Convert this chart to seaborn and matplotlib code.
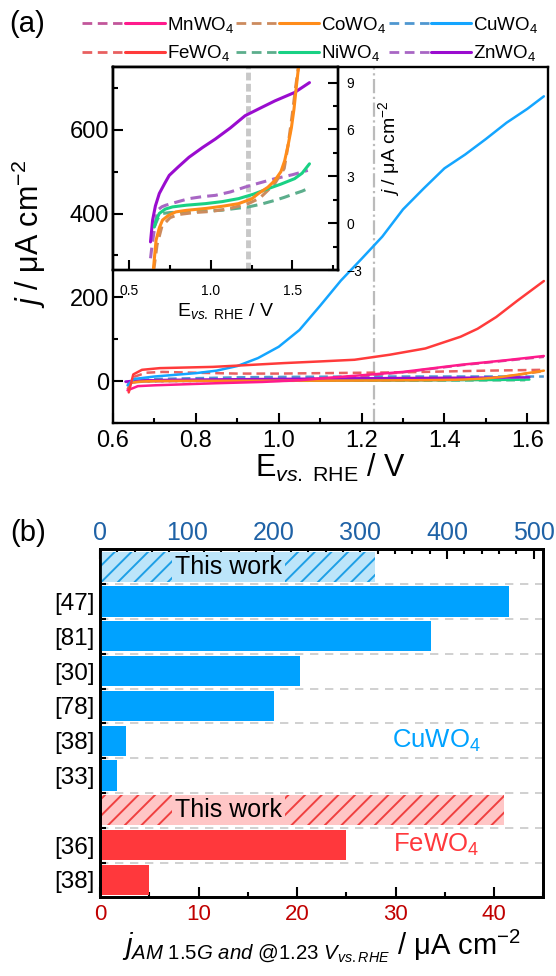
import numpy as np
import pandas as pd
import matplotlib
matplotlib.use('Agg')
import matplotlib.pyplot as plt
import seaborn as sns
from matplotlib.lines import Line2D
from matplotlib.legend_handler import HandlerTuple
from matplotlib.ticker import MultipleLocator, FixedLocator, FormatStrFormatter, NullFormatter

# ---------------- data: panel (a) ----------------
mn_x = [0.635, 0.66, 0.70, 0.76, 0.85, 0.96, 1.05, 1.12, 1.20, 1.30, 1.44, 1.55, 1.64]
mn_y = [-22, -12, -10, -8, -5, -2, 2, 8, 14, 22, 39, 50, 60]
mn_dark_x = [0.635, 0.66, 0.75, 0.90, 1.00, 1.10, 1.20, 1.30, 1.44, 1.55, 1.64]
mn_dark_y = [-5, -1, 0, 1, 3, 6, 12, 21, 38, 49, 58]

cu_x = [0.635, 0.65, 0.70, 0.75, 0.80, 0.85, 0.90, 0.95, 1.00, 1.05, 1.10, 1.15,
        1.20, 1.25, 1.30, 1.35, 1.40, 1.45, 1.50, 1.55, 1.60, 1.64]
cu_y = [-10, 5, 11, 15, 19, 25, 36, 55, 82, 122, 180, 240,
        292, 345, 410, 460, 508, 541, 578, 617, 650, 680]
cu_dark_x = [0.635, 0.66, 0.70, 0.80, 0.90, 1.00, 1.20, 1.40, 1.64]
cu_dark_y = [-8, 2, 5, 7, 9, 10, 11, 11, 11]

fe_x = [0.638, 0.649, 0.670, 0.713, 0.841, 0.90, 1.012, 1.10, 1.183, 1.268, 1.354,
        1.439, 1.48, 1.525, 1.576, 1.64]
fe_y = [-27, 16, 27, 31, 34, 37, 43, 47, 51, 63, 78, 106, 125, 153, 192, 239]
fe_dark_x = [0.635, 0.65, 0.68, 0.72, 0.80, 0.90, 1.00, 1.10, 1.20, 1.30, 1.40, 1.50, 1.64]
fe_dark_y = [-20, 10, 20, 22, 20, 18, 18, 19, 20, 21, 23, 25, 27]

co_x = [0.643, 0.664, 0.684, 0.704, 0.74, 0.785, 0.85, 0.967, 1.07, 1.17, 1.25, 1.291,
        1.35, 1.393, 1.43, 1.453, 1.474, 1.494, 1.51, 1.524, 1.538, 1.56, 1.60, 1.64]
co_y = [-3.5, -1.1, -0.3, 0.2, 0.5, 0.72, 0.82, 0.94, 1.08, 1.25, 1.55, 1.89,
        2.3, 2.74, 3.3, 4.0, 5.0, 6.1, 7.3, 8.7, 10.0, 13.0, 19.0, 25.0]
co_dark_x = [0.65, 0.67, 0.70, 0.75, 0.80, 0.90, 1.00, 1.10, 1.23, 1.30, 1.39, 1.45,
             1.474, 1.50, 1.52, 1.54, 1.56, 1.60, 1.64]
co_dark_y = [-3.0, -1.4, -0.2, 0.35, 0.55, 0.68, 0.75, 0.9, 1.25, 1.6, 2.5, 3.5,
             5.0, 7.0, 8.7, 10.2, 13.0, 18.0, 24.0]

ni_x = [0.653, 0.665, 0.684, 0.72, 0.765, 0.85, 0.967, 1.07, 1.17, 1.26, 1.352, 1.43,
        1.514, 1.56, 1.605]
ni_y = [-0.25, 0.2, 0.62, 0.9, 1.04, 1.15, 1.25, 1.38, 1.57, 1.85, 2.21, 2.5, 2.85, 3.2, 3.8]
ni_dark_x = [0.653, 0.675, 0.704, 0.75, 0.866, 1.068, 1.23, 1.31, 1.393, 1.45, 1.514,
             1.56, 1.595]
ni_dark_y = [-0.25, 0.3, 0.62, 0.68, 0.72, 0.83, 1.04, 1.22, 1.46, 1.65, 1.89, 2.05, 2.21]

zn_x = [0.63, 0.643, 0.66, 0.684, 0.72, 0.745, 0.80, 0.866, 0.95, 1.028, 1.12, 1.21,
        1.30, 1.393, 1.514, 1.605]
zn_y = [-1.2, 0.2, 1.1, 1.9, 2.6, 3.06, 3.6, 4.22, 4.85, 5.39, 6.1, 6.88, 7.35, 7.83, 8.37, 9.0]
zn_dark_x = [0.63, 0.64, 0.653, 0.673, 0.70, 0.724, 0.80, 0.866, 0.95, 1.028, 1.12, 1.21,
             1.30, 1.393, 1.50, 1.595]
zn_dark_y = [-2.25, -1.4, -0.45, 0.83, 1.05, 1.15, 1.38, 1.57, 1.7, 1.78, 2.0, 2.31,
             2.58, 2.85, 3.1, 3.38]

e_ref = 1.23

legend_labels = ['MnWO$_4$', 'FeWO$_4$', 'CoWO$_4$', 'NiWO$_4$', 'CuWO$_4$', 'ZnWO$_4$']

# ---------------- data: panel (b) ----------------
cats = ['Cu_this', '[47]', '[81]', '[30]', '[78]', '[38]_cu', '[33]', 'Fe_this', '[36]', '[38]_fe']
ylabels = ['', '[47]', '[81]', '[30]', '[78]', '[38]', '[33]', '', '[36]', '[38]']
cu_cats = cats[:7]
cu_vals = [317, 471, 381, 231, 201, 30, 20]
fe_cats = cats[7:]
fe_vals = [41, 25, 5]

# ---------------- colours ----------------
C = dict(mn='#FF1A8C', mn_d='#C2569A', co='#FF8C1A', co_d='#CC8B5E',
         cu='#14A5FF', cu_d='#4F97D0', fe='#FF3B3B', fe_d='#E86060',
         ni='#19D184', ni_d='#5CAE8C', zn='#9A0CCF', zn_d='#A866C4')
bar_blue, bar_blue_l, hatch_blue = '#00A2FF', '#BCE5FA', '#1E9FE6'
bar_red, bar_red_l, hatch_red = '#FF383C', '#FFC6C6', '#F04040'

sns.set_theme(style='ticks')
plt.rcParams['font.family'] = ['Liberation Sans', 'DejaVu Sans']
plt.rcParams['mathtext.fontset'] = 'custom'
plt.rcParams['mathtext.rm'] = 'Liberation Sans'
plt.rcParams['mathtext.it'] = 'Liberation Sans:italic'
plt.rcParams['mathtext.bf'] = 'Liberation Sans:bold'
plt.rcParams['hatch.linewidth'] = 1.4
for k in ['text.color', 'axes.labelcolor', 'xtick.color', 'ytick.color', 'axes.edgecolor']:
    plt.rcParams[k] = 'black'

W, H = 556, 976
fig = plt.figure(figsize=(W / 100, H / 100), dpi=100)

def fbox(l, t, r, b):
    return [l / W, 1 - b / H, (r - l) / W, (b - t) / H]

DASH = (0, (3.5, 2))

def draw(ax, x, y, color, dashed, lw):
    sns.lineplot(x=x, y=y, ax=ax, color=color, linewidth=lw,
                 linestyle=DASH if dashed else '-', legend=False, errorbar=None)

# ---------------- panel (a) main ----------------
main = fig.add_axes(fbox(113, 67, 548, 423))
for x, y, c in [(zn_dark_x, zn_dark_y, C['zn_d']), (ni_dark_x, ni_dark_y, C['ni_d']),
                (co_dark_x, co_dark_y, C['co_d']), (cu_dark_x, cu_dark_y, C['cu_d']),
                (mn_dark_x, mn_dark_y, C['mn_d']), (fe_dark_x, fe_dark_y, C['fe_d'])]:
    draw(main, x, y, c, True, 1.8)
for x, y, c in [(ni_x, ni_y, C['ni']), (zn_x, zn_y, C['zn']), (co_x, co_y, C['co']),
                (cu_x, cu_y, C['cu']), (mn_x, mn_y, C['mn']), (fe_x, fe_y, C['fe'])]:
    draw(main, x, y, c, False, 1.8)
main.axvline(e_ref, color='#BBBBBB', ls='-.', lw=1.6, zorder=1)
main.set_xlim(0.6, 1.65)
main.set_ylim(-100, 750)
main.xaxis.set_major_locator(MultipleLocator(0.2))
main.xaxis.set_minor_locator(MultipleLocator(0.1))
main.xaxis.set_major_formatter(FormatStrFormatter('%.1f'))
main.yaxis.set_major_locator(MultipleLocator(200))
main.yaxis.set_minor_locator(MultipleLocator(100))
main.tick_params(which='both', direction='in', top=False, right=False, labelsize=17, width=1.5)
main.tick_params(which='major', length=7)
main.tick_params(which='minor', length=3.5)
main.tick_params(axis='x', pad=5)
main.tick_params(axis='y', pad=3)
for s in main.spines.values():
    s.set_linewidth(1.7)
main.set_xlabel(r'E$_{\mathit{vs.}\ \mathrm{RHE}}$ / V', fontsize=22, labelpad=0)
main.set_ylabel(r'$j$ / μA cm$^{-2}$', fontsize=22)
main.yaxis.set_label_coords(-0.15, 0.53)

# ---------------- inset ----------------
ins = fig.add_axes(fbox(113, 67, 338, 270))
ins.set_zorder(3)
ins.set_facecolor('white')
ins_r = ins.twinx()
ins_r.set_zorder(4)
ins_r.patch.set_visible(False)
mpos, ipos = main.get_position(), ins.get_position()
y0, y1 = main.get_ylim()
ins.set_ylim(y0 + (ipos.y0 - mpos.y0) / mpos.height * (y1 - y0), y1)
ins.yaxis.set_major_locator(FixedLocator([400, 600]))
ins.yaxis.set_minor_locator(FixedLocator([300, 500, 700]))
ins.yaxis.set_major_formatter(NullFormatter())
ins.set_xlim(0.4, 1.78)
ins.xaxis.set_major_locator(MultipleLocator(0.5))
ins.xaxis.set_minor_locator(MultipleLocator(0.25))
ins.xaxis.set_major_formatter(FormatStrFormatter('%.1f'))
ins.tick_params(which='both', direction='in', top=False, right=False, width=1.5, labelsize=10)
ins.tick_params(which='major', length=7)
ins.tick_params(which='minor', length=3.5)
ins.tick_params(axis='x', pad=10)
ins.axvline(e_ref, color='#C8C8C8', lw=3.5, ls=(0, (1.6, 0.7)), zorder=1)
for x, y, c in [(zn_dark_x, zn_dark_y, C['zn_d']), (ni_dark_x, ni_dark_y, C['ni_d']),
                (co_dark_x, co_dark_y, C['co_d'])]:
    draw(ins_r, x, y, c, True, 2.2)
for x, y, c in [(zn_x, zn_y, C['zn']), (ni_x, ni_y, C['ni']), (co_x, co_y, C['co'])]:
    draw(ins_r, x, y, c, False, 2.2)
ins_r.set_xlim(0.4, 1.78)
ins_r.set_ylim(-3, 10)
ins_r.yaxis.set_major_locator(MultipleLocator(3))
ins_r.yaxis.set_minor_locator(MultipleLocator(1.5))
ins_r.tick_params(which='both', direction='in', left=False, right=True, labelleft=False,
                  labelright=True, width=1.5, labelsize=10, pad=6)
ins_r.tick_params(which='major', length=7)
ins_r.tick_params(which='minor', length=3.5)
for s in list(ins.spines.values()) + list(ins_r.spines.values()):
    s.set_linewidth(1.7)
ins.set_xlabel(r'E$_{\mathit{vs.}\ \mathrm{RHE}}$ / V', fontsize=14, labelpad=2)
ins.set_ylabel('')
ins_r.set_ylabel(r'$j$ / μA cm$^{-2}$', fontsize=14)
ins_r.yaxis.set_label_coords(1.17, 0.6)

# ---------------- legend ----------------
pairs = [('mn_d', 'mn'), ('fe_d', 'fe'), ('co_d', 'co'), ('ni_d', 'ni'), ('cu_d', 'cu'), ('zn_d', 'zn')]
handles = [(Line2D([], [], color=C[d], lw=2, ls=DASH), Line2D([], [], color=C[s], lw=2.2))
           for d, s in pairs]
fig.legend(handles=handles, labels=legend_labels, ncol=3, loc='upper left',
           bbox_to_anchor=(82 / W, 1 - 15 / H), frameon=False, fontsize=13.5,
           handler_map={tuple: HandlerTuple(ndivide=None, pad=0.15)},
           handlelength=4.4, handletextpad=0.12, columnspacing=0.12,
           labelspacing=0.45, borderpad=0, borderaxespad=0)

fig.text(27 / W, 1 - 24 / H, '(a)', fontsize=21, ha='center', va='center')
fig.text(28 / W, 1 - 533 / H, '(b)', fontsize=21, ha='center', va='center')

# ---------------- panel (b) ----------------
axb = fig.add_axes(fbox(100, 549.3, 543.3, 897.3))
axt = axb.twiny()
sns.barplot(x=fe_vals, y=fe_cats, order=cats, orient='h', color=bar_red, width=0.87,
            linewidth=0, saturation=1, ax=axb)
sns.barplot(x=cu_vals, y=cu_cats, order=cats, orient='h', color=bar_blue, width=0.87,
            linewidth=0, saturation=1, ax=axt)

def restyle(ax, pos, light, hcol):
    for p in ax.patches:
        if abs(p.get_y() + p.get_height() / 2 - pos) < 0.1:
            p.set_facecolor(light)
            p.set_edgecolor(hcol)
            p.set_hatch('//')
            p.set_linewidth(0)

restyle(axt, cats.index('Cu_this'), bar_blue_l, hatch_blue)
restyle(axb, cats.index('Fe_this'), bar_red_l, hatch_red)

axb.set_ylim(len(cats) - 0.5, -0.5)
axb.set_yticks(range(len(cats)))
axb.set_yticklabels(ylabels)
axb.set_yticks(np.arange(0.5, len(cats) - 1, 1), minor=True)
axb.set_ylabel('')
axb.grid(which='minor', axis='y', color='#C8C8C8', ls=(0, (5, 4)), lw=1.2)
axb.tick_params(axis='y', which='major', length=0, labelsize=17.5, pad=4)
axb.tick_params(axis='y', which='minor', direction='in', length=4, width=1.5, left=True, right=False)

axb.set_xlim(0, 45)
axb.xaxis.set_major_locator(MultipleLocator(10))
axb.xaxis.set_minor_locator(MultipleLocator(5))
axb.tick_params(axis='x', which='both', direction='in', top=False, bottom=True,
                labelsize=16, labelcolor='#C00000', width=1.5, pad=5)
axb.tick_params(axis='x', which='major', length=7)
axb.tick_params(axis='x', which='minor', length=3.5)

axt.set_xlim(0, 511)
axt.xaxis.set_major_locator(MultipleLocator(100))
axt.xaxis.set_minor_locator(MultipleLocator(20))
axt.tick_params(axis='x', which='both', direction='in', top=True, bottom=False,
                labelsize=18, labelcolor='#1F62A6', width=1.5, pad=3)
axt.tick_params(axis='x', which='major', length=7)
axt.tick_params(axis='x', which='minor', length=3.5)
for a in (axb, axt):
    for s in a.spines.values():
        s.set_linewidth(2)

tw_x = 7.6  # left edge of the "This work" captions, bottom-axis units
axt.text(tw_x, cats.index('Cu_this'), 'This work', transform=axb.transData, fontsize=18,
         ha='left', va='center', zorder=5,
         bbox=dict(boxstyle='square,pad=0.12', fc=bar_blue_l, ec='none'))
axb.text(tw_x, cats.index('Fe_this'), 'This work', fontsize=18, ha='left', va='center',
         zorder=5, bbox=dict(boxstyle='square,pad=0.12', fc=bar_red_l, ec='none'))
axt.text(29.6, 5.0, 'CuWO$_4$', transform=axb.transData, fontsize=18.5, color=bar_blue,
         ha='left', va='center')
axt.text(29.7, 8.0, 'FeWO$_4$', transform=axb.transData, fontsize=18.5, color=bar_red,
         ha='left', va='center')

axb.set_xlabel(r'$j_{\mathit{AM\ 1.5G\ and\ @1.23\ V}_{\mathit{vs.RHE}}}$ / μA cm$^{-2}$',
               fontsize=21, labelpad=2)

fig.savefig('out.png', dpi=100)
